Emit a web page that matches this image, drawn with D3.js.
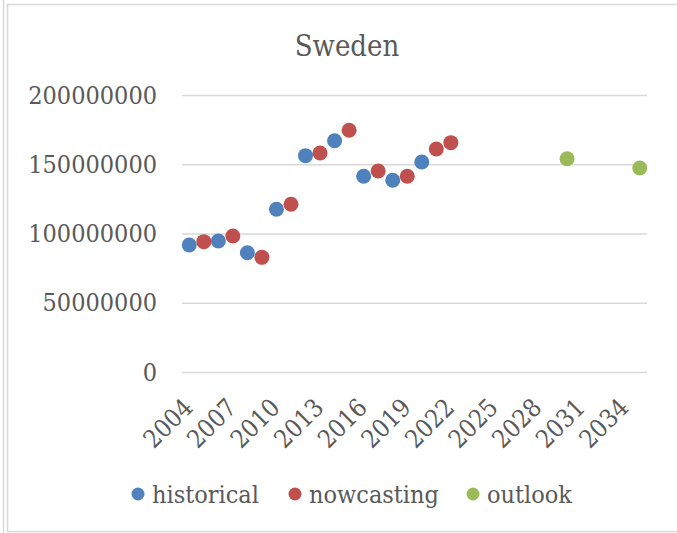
<!DOCTYPE html>
<html>
<head>
<meta charset="utf-8">
<script src="https://cdn.jsdelivr.net/npm/d3@7"></script>
<style>
  html, body { margin: 0; padding: 0; background: #fff; }
  svg { display: block; }
  text { font-family: "DejaVu Serif Condensed", "Liberation Serif", serif; fill: #595959; }
</style>
</head>
<body>
<svg id="chart" width="677" height="533"></svg>
<script>
// Category years shown on the x axis (one band per year)
const years = d3.range(2004, 2036);
const tickYears = [2004, 2007, 2010, 2013, 2016, 2019, 2022, 2025, 2028, 2031, 2034];
const yTicks = [0, 50000000, 100000000, 150000000, 200000000];

const historicalYears = [2004, 2006, 2008, 2010, 2012, 2014, 2016, 2018, 2020];
const historicalValues = [91700000, 94600000, 86100000, 117500000, 156200000, 167000000, 141300000, 138400000, 151600000];

const nowcastingYears = [2005, 2007, 2009, 2011, 2013, 2015, 2017, 2019, 2021, 2022];
const nowcastingValues = [94100000, 98200000, 82800000, 121100000, 158100000, 174500000, 145100000, 141300000, 161000000, 165600000];

const outlookYears = [2030, 2035];
const outlookValues = [154000000, 147300000];

const seriesNames = ["historical", "nowcasting", "outlook"];
const seriesColors = ["#4F81BD", "#C0504D", "#9BBB59"];

const svg = d3.select("#chart");
const W = 677, H = 533;

// outer frame
svg.append("line").attr("x1", 3.5).attr("x2", 3.5).attr("y1", 0).attr("y2", H)
  .attr("stroke", "#d9d9d9").attr("stroke-width", 1.5);
svg.append("path").attr("d", `M${W},4.5 H7.5 V${H - 1.5} H${W}`)
  .attr("fill", "none").attr("stroke", "#d9d9d9").attr("stroke-width", 1.5);

const plot = { left: 182, right: 647, top: 95, bottom: 372 };

const x = d3.scaleBand().domain(years).range([plot.left, plot.right]).padding(0);
const cx = yr => x(yr) + x.bandwidth() / 2;
const y = d3.scaleLinear().domain([0, 200000000]).range([plot.bottom, plot.top]);

// title
svg.append("text").attr("x", 347).attr("y", 56).attr("text-anchor", "middle")
  .style("font-size", "29px").text("Sweden");

// gridlines + y labels
const yAxis = d3.axisLeft(y).tickValues(yTicks).tickFormat(d3.format("d"))
  .tickSize(-(plot.right - plot.left)).tickPadding(25);
const gy = svg.append("g").attr("transform", `translate(${plot.left},0)`).call(yAxis);
gy.select(".domain").remove();
gy.selectAll(".tick line").attr("stroke", "#d9d9d9").attr("stroke-width", 1.5);
gy.selectAll(".tick text").attr("fill", "#595959").style("font-size", "25px")
  .style("font-family", "'DejaVu Serif Condensed', 'Liberation Serif', serif");

// x labels, rotated
const xAxis = d3.axisBottom(x).tickValues(tickYears).tickSize(0).tickPadding(0);
const gx = svg.append("g").attr("transform", `translate(0,${plot.bottom})`).call(xAxis);
gx.select(".domain").remove();
gx.selectAll(".tick text")
  .attr("fill", "#595959")
  .style("font-size", "25px")
  .style("font-family", "'DejaVu Serif Condensed', 'Liberation Serif', serif")
  .attr("text-anchor", "end")
  .attr("dy", null)
  .attr("y", 0)
  .attr("transform", "translate(-7,25) rotate(-45) translate(0,17)");

// markers
const series = [
  { yrs: historicalYears, vals: historicalValues },
  { yrs: nowcastingYears, vals: nowcastingValues },
  { yrs: outlookYears, vals: outlookValues }
];
series.forEach((s, i) => {
  svg.append("g").selectAll("circle")
    .data(s.yrs.map((yr, j) => ({ yr, v: s.vals[j] })))
    .join("circle")
    .attr("cx", d => cx(d.yr))
    .attr("cy", d => y(d.v))
    .attr("r", 7.5)
    .attr("fill", seriesColors[i]);
});

// legend
const legendX = [138, 295, 473];
const lg = svg.append("g");
seriesNames.forEach((name, i) => {
  lg.append("circle").attr("cx", legendX[i]).attr("cy", 494).attr("r", 6.5).attr("fill", seriesColors[i]);
  lg.append("text").attr("x", legendX[i] + 14).attr("y", 503).style("font-size", "25px").text(name);
});
</script>
</body>
</html>
